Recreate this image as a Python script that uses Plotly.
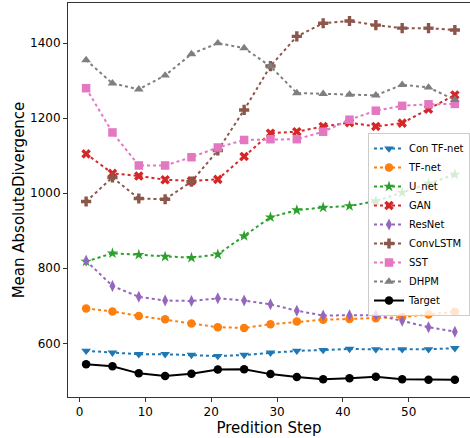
import plotly.graph_objects as go

steps = [1, 5, 9, 13, 17, 21, 25, 29, 33, 37, 41, 45, 49, 53, 57]

con_tf_net = [580, 575, 571, 571, 569, 566, 569, 575, 580, 582, 585, 584, 584, 584, 587]
tf_net = [693, 685, 673, 664, 653, 643, 641, 651, 658, 663, 665, 667, 670, 677, 684]
u_net = [818, 840, 836, 831, 828, 837, 886, 936, 955, 962, 966, 979, 1002, 1026, 1050]
gan = [1105, 1053, 1046, 1036, 1033, 1037, 1098, 1160, 1164, 1178, 1188, 1178, 1187, 1224, 1262]
resnet = [820, 753, 724, 714, 713, 720, 714, 704, 687, 674, 675, 675, 660, 643, 631]
convlstm = [978, 1042, 986, 984, 1031, 1114, 1222, 1339, 1418, 1453, 1459, 1448, 1440, 1440, 1435]
sst = [1280, 1162, 1074, 1074, 1096, 1122, 1142, 1144, 1144, 1164, 1196, 1220, 1233, 1237, 1238]
dhpm = [1355, 1293, 1277, 1314, 1371, 1400, 1387, 1338, 1267, 1265, 1263, 1261, 1289, 1282, 1249]
target = [544, 539, 520, 513, 519, 530, 531, 518, 510, 504, 507, 511, 504, 503, 503]

series = [
    ("Con TF-net", con_tf_net, "#1f77b4", "triangle-down", "dot"),
    ("TF-net", tf_net, "#ff7f0e", "circle", "dot"),
    ("U_net", u_net, "#2ca02c", "star", "dot"),
    ("GAN", gan, "#d62728", "x", "dot"),
    ("ResNet", resnet, "#9467bd", "diamond-tall", "dot"),
    ("ConvLSTM", convlstm, "#8c564b", "cross", "dot"),
    ("SST", sst, "#e377c2", "square", "dot"),
    ("DHPM", dhpm, "#7f7f7f", "triangle-up", "dot"),
    ("Target", target, "#000000", "circle", "solid"),
]

fig = go.Figure()
for name, vals, color, sym, dash in series:
    fig.add_trace(go.Scatter(
        x=steps, y=vals, name=name, mode="lines+markers",
        line=dict(color=color, width=2, dash=dash),
        marker=dict(symbol=sym, size=8.5, color=color),
    ))

font = "DejaVu Sans, sans-serif"
fig.update_layout(
    width=470, height=438,
    margin=dict(l=68, r=0, t=3, b=41, autoexpand=False),
    paper_bgcolor="white", plot_bgcolor="white",
    font=dict(family=font, size=12, color="black"),
    legend=dict(
        x=1.0, y=0.670, xanchor="right", yanchor="top",
        bgcolor="rgba(255,255,255,0.8)", bordercolor="#cccccc", borderwidth=1,
        font=dict(size=10, family=font),
        itemwidth=30, tracegroupgap=0,
    ),
    xaxis=dict(
        range=[-1.75, 59.3], tickvals=[0, 10, 20, 30, 40, 50],
        showgrid=False, zeroline=False, showline=True, mirror=True,
        linecolor="#333333", linewidth=1, ticks="outside", ticklen=4,
        tickcolor="#333333", tickfont=dict(size=12), automargin=False,
        title=dict(text="Predition Step", font=dict(size=15), standoff=2),
    ),
    yaxis=dict(
        range=[457, 1507], tickvals=[600, 800, 1000, 1200, 1400],
        showgrid=False, zeroline=False, showline=True, mirror=False,
        linecolor="#333333", linewidth=1, ticks="outside", ticklen=4,
        tickcolor="#333333", tickfont=dict(size=12), automargin=False,
        title=dict(text="Mean AbsoluteDivergence", font=dict(size=15), standoff=1),
    ),
)

fig.write_html("out.html", config={"displayModeBar": False},
               post_script="document.body.style.margin='0';")
